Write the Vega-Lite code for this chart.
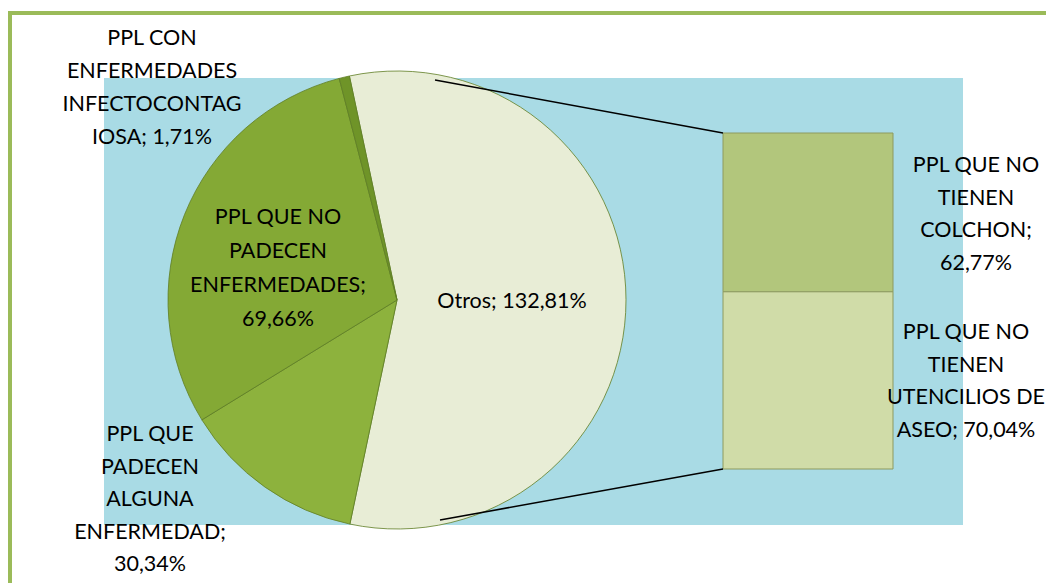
{
  "$schema": "https://vega.github.io/schema/vega-lite/v6.json",
  "width": 859,
  "height": 447,
  "autosize": {"type": "none"},
  "padding": {"left": 104, "top": 78, "right": 83, "bottom": 58},
  "background": "white",
  "config": {
    "view": {"stroke": null},
    "text": {"font": "Lato", "fontSize": 21.5, "lineHeight": 33, "lineBreak": "\n", "color": "#000000", "align": "center", "baseline": "middle"}
  },
  "datasets": {
    "pie": [
      {"categoria": "Otros", "valor": 132.81, "etiqueta": "Otros; 132,81%"},
      {"categoria": "PPL QUE PADECEN ALGUNA ENFERMEDAD", "valor": 30.34, "etiqueta": "PPL QUE\nPADECEN\nALGUNA\nENFERMEDAD;\n30,34%"},
      {"categoria": "PPL QUE NO PADECEN ENFERMEDADES", "valor": 69.66, "etiqueta": "PPL QUE NO\nPADECEN\nENFERMEDADES;\n69,66%"},
      {"categoria": "PPL CON ENFERMEDADES INFECTOCONTAGIOSA", "valor": 1.71, "etiqueta": "PPL CON\nENFERMEDADES\nINFECTOCONTAG\nIOSA; 1,71%"}
    ],
    "barra": [
      {"categoria": "PPL QUE NO TIENEN COLCHON", "valor": 62.77, "etiqueta": "PPL QUE NO\nTIENEN\nCOLCHON;\n62,77%"},
      {"categoria": "PPL QUE NO TIENEN UTENCILIOS DE ASEO", "valor": 70.04, "etiqueta": "PPL QUE NO\nTIENEN\nUTENCILIOS DE\nASEO; 70,04%"}
    ]
  },
  "layer": [
    {
      "data": {"values": [{}]},
      "mark": {"type": "rect", "fill": "#A9DBE5", "strokeWidth": 0},
      "encoding": {"x": {"value": 0}, "y": {"value": 0}, "x2": {"value": 859}, "y2": {"value": 447}}
    },
    {
      "data": {"values": [{}]},
      "mark": {"type": "rect", "fillOpacity": 0, "stroke": "#9BBB59", "strokeWidth": 4},
      "encoding": {"x": {"value": -94}, "y": {"value": -65}, "x2": {"value": 1000}, "y2": {"value": 600}}
    },
    {
      "data": {"name": "pie"},
      "transform": [{"window": [{"op": "row_number", "as": "idx"}]}],
      "mark": {"type": "arc", "x": 293, "y": 222, "outerRadius": 229, "stroke": "#5f7d24", "strokeWidth": 0.8},
      "encoding": {
        "theta": {"field": "valor", "type": "quantitative", "stack": true, "scale": {"range": [-0.2094, 6.0738]}},
        "order": {"field": "idx", "type": "quantitative"},
        "color": {
          "field": "categoria", "type": "nominal", "legend": null,
          "scale": {
            "domain": ["Otros", "PPL QUE PADECEN ALGUNA ENFERMEDAD", "PPL QUE NO PADECEN ENFERMEDADES", "PPL CON ENFERMEDADES INFECTOCONTAGIOSA", "PPL QUE NO TIENEN COLCHON", "PPL QUE NO TIENEN UTENCILIOS DE ASEO"],
            "range": ["#E8EDD6", "#8DB23D", "#84A935", "#6F9428", "#B2C67C", "#D0DCA8"]
          }
        }
      }
    },
    {
      "data": {"name": "barra"},
      "transform": [{"window": [{"op": "row_number", "as": "idx"}]}],
      "mark": {"type": "bar", "orient": "vertical", "stroke": "#8d9a5e", "strokeWidth": 1},
      "encoding": {
        "x": {"value": 619},
        "x2": {"value": 789},
        "y": {"field": "valor", "type": "quantitative", "stack": "zero", "scale": {"domain": [0, 132.81], "range": [391, 55], "nice": false}, "axis": null},
        "order": {"field": "idx", "type": "quantitative", "sort": "descending"},
        "color": {"field": "categoria", "type": "nominal", "legend": null}
      }
    },
    {
      "data": {"values": [{}]},
      "mark": {"type": "rule", "color": "#000000", "strokeWidth": 1.5},
      "encoding": {"x": {"value": 619}, "y": {"datum": 132.81, "type": "quantitative"}, "x2": {"value": 331}, "y2": {"value": 2}}
    },
    {
      "data": {"values": [{}]},
      "mark": {"type": "rule", "color": "#000000", "strokeWidth": 1.5},
      "encoding": {"x": {"value": 619}, "y": {"datum": 0, "type": "quantitative"}, "x2": {"value": 336}, "y2": {"value": 442}}
    },
    {
      "data": {"name": "pie"},
      "transform": [{"filter": "datum.categoria === 'PPL CON ENFERMEDADES INFECTOCONTAGIOSA'"}],
      "mark": {"type": "text", "x": 48, "y": -39},
      "encoding": {"text": {"field": "etiqueta"}}
    },
    {
      "data": {"name": "pie"},
      "transform": [{"filter": "datum.categoria === 'PPL QUE PADECEN ALGUNA ENFERMEDAD'"}],
      "mark": {"type": "text", "x": 46, "y": 357, "lineHeight": 32.5},
      "encoding": {"text": {"field": "etiqueta"}}
    },
    {
      "data": {"name": "pie"},
      "transform": [{"filter": "datum.categoria === 'PPL QUE NO PADECEN ENFERMEDADES'"}],
      "mark": {"type": "text", "x": 174, "y": 140, "lineHeight": 34},
      "encoding": {"text": {"field": "etiqueta"}}
    },
    {
      "data": {"name": "pie"},
      "transform": [{"filter": "datum.categoria === 'Otros'"}],
      "mark": {"type": "text", "x": 408, "y": 224},
      "encoding": {"text": {"field": "etiqueta"}}
    },
    {
      "data": {"name": "barra"},
      "transform": [{"filter": "datum.categoria === 'PPL QUE NO TIENEN COLCHON'"}],
      "mark": {"type": "text", "x": 872, "y": 88, "lineHeight": 32.5},
      "encoding": {"text": {"field": "etiqueta"}}
    },
    {
      "data": {"name": "barra"},
      "transform": [{"filter": "datum.categoria === 'PPL QUE NO TIENEN UTENCILIOS DE ASEO'"}],
      "mark": {"type": "text", "x": 862, "y": 255, "lineHeight": 32.5},
      "encoding": {"text": {"field": "etiqueta"}}
    }
  ]
}
